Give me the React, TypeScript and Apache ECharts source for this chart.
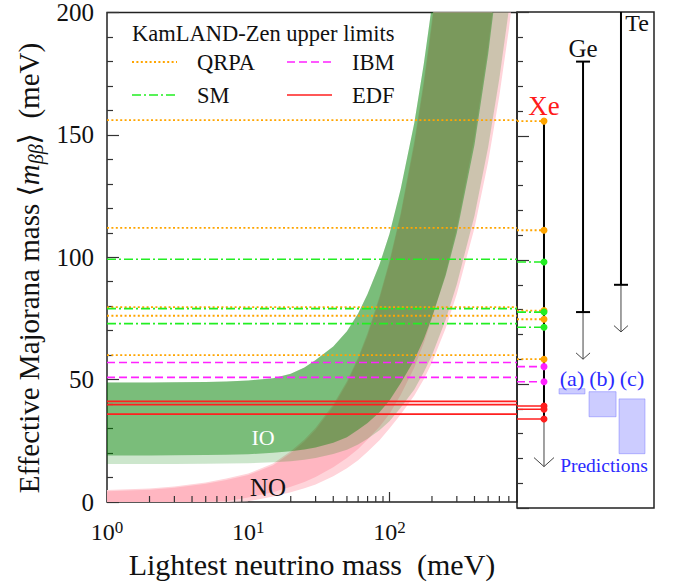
import React, { useEffect, useRef } from 'react';
import * as echarts from 'echarts';

const FONT = 'Liberation Serif, Times New Roman, DejaVu Serif, serif';

// ---------- data ----------
// lightest neutrino mass axis (meV)
const X_MIN = 1;
const X_MAX = 800;
const MASS = [1, 2, 3, 5, 7, 10, 15, 20, 25, 30, 40, 50, 60, 70, 85, 100, 120, 150, 175, 200, 250, 300, 400, 500, 600, 700, 800];
const MINOR_X = [2, 3, 4, 5, 6, 7, 8, 9, 20, 30, 40, 50, 60, 70, 80, 90, 200, 300, 400, 500, 600, 700];
const X_TICK_POWERS = [0, 1, 2];

// Inverted ordering band (meV)
const IO_UPPER = [48.8, 48.8, 48.9, 49.0, 49.2, 49.6, 50.6, 52.4, 55.0, 58.0, 63.5, 69.8, 77, 85, 97, 109.5, 127.8, 155, 179, 203, 251, 300, 399, 498, 597, 697, 796];
const IO_LOWER = [19.0, 19.0, 19.1, 19.2, 19.3, 19.5, 20.1, 20.7, 21.4, 22.3, 24.2, 26.5, 29.5, 32.3, 36.7, 41.5, 48.5, 58, 66.5, 75.5, 92.5, 110, 146, 183, 220, 256, 292];
const IO_LOWER_WIDE = [15.5, 15.5, 15.5, 15.6, 15.7, 15.8, 16.2, 16.7, 17.3, 18.0, 19.6, 21.3, 23.5, 25.8, 29.3, 33, 38.5, 46, 53, 60, 74.5, 89, 117, 145, 173, 201, 229];

// Normal ordering band (meV)
const NO_UPPER = [4.4, 5.0, 5.8, 7.5, 9.0, 11, 15, 20, 24.7, 29.5, 39, 48.5, 58.3, 68, 83, 97.5, 117, 146, 170.5, 195, 244, 293, 390, 488, 585, 683, 780];
const NO_UPPER_WIDE = [4.9, 5.5, 6.3, 8.0, 9.6, 11.6, 15.7, 20.7, 25.5, 30.3, 39.8, 49.3, 59, 69, 84, 98.5, 118, 147.5, 172, 197, 246, 295, 393, 491, 589, 687, 785];
const NO_LOWER = [0, 0, 0, 0, 0.3, 1.8, 4.0, 6.2, 8.2, 10.2, 14.2, 18.0, 21.7, 25.5, 30.7, 36, 43.7, 55, 65, 75, 93.5, 112, 149, 186, 223, 260, 297];
const NO_LOWER_WIDE = [0, 0, 0, 0, 0, 0.3, 2.2, 4.0, 5.6, 7.2, 10.5, 13.8, 17.1, 20.5, 25.2, 30, 35.8, 43.5, 50.2, 57, 71, 85, 112, 139, 166, 193, 220];

// KamLAND-Zen upper limits (meV)
const QRPA_LIMITS = [156, 112, 79.6, 76.1, 60];
const SM_LIMITS = [99.2, 79, 72.9];
const IBM_LIMITS = [57, 50.9];
const EDF_LIMITS = [41.1, 39.8, 35.9];

// other experiments (meV)
const XE_ARROW = 16.7;
const GE_LIMIT = [180, 79];
const GE_ARROW = 60;
const TE_LIMIT = [260, 90];
const TE_ARROW = 71;

// predictions (meV)
const PRED_LABELS = ['(a)', '(b)', '(c)'];
const PRED_LOW = [46, 36.8, 21.9];
const PRED_HIGH = [48.1, 46.9, 44];

// ---------- layout (right panel x runs 0..10) ----------
const XE_X = 1.97;
const GE_X = 4.82;
const TE_X = 7.59;
const PRED_X = [[3.07, 4.96], [5.26, 7.23], [7.45, 9.34]];

const METHODS = [
  { name: 'QRPA', values: QRPA_LIMITS, color: '#ffa500', dash: [2, 2.4], width: 1.8 },
  { name: 'SM', values: SM_LIMITS, color: '#22ee22', dash: [9, 3, 2, 3], width: 1.6 },
  { name: 'IBM', values: IBM_LIMITS, color: '#ff22ff', dash: [8, 4], width: 1.6 },
  { name: 'EDF', values: EDF_LIMITS, color: '#ff1f1f', dash: 'solid' as any, width: 1.6 },
];

function bandSeries(lower: number[], upper: number[], fill: string, z: number) {
  return {
    type: 'custom',
    xAxisIndex: 0,
    yAxisIndex: 0,
    clip: true,
    silent: true,
    z,
    data: [[MASS[0], lower[0]]],
    renderItem: (_params: any, api: any) => {
      const pts: number[][] = [];
      for (let i = 0; i < MASS.length; i++) pts.push(api.coord([MASS[i], upper[i]]));
      for (let i = MASS.length - 1; i >= 0; i--) pts.push(api.coord([MASS[i], lower[i]]));
      return { type: 'polygon', shape: { points: pts }, style: { fill } };
    },
  };
}

export default function App() {
  const ref = useRef<HTMLDivElement>(null);

  useEffect(() => {
    if (!ref.current) return;
    const chart = echarts.init(ref.current, undefined, { renderer: 'svg' });

    const allXe = [...QRPA_LIMITS, ...SM_LIMITS, ...IBM_LIMITS, ...EDF_LIMITS];
    const COLUMNS = [
      { x: XE_X, top: Math.max(...allXe), limit: Math.min(...allXe), arrow: XE_ARROW, cap: false, head: 10 },
      { x: GE_X, top: GE_LIMIT[0], limit: GE_LIMIT[1], arrow: GE_ARROW, cap: true, head: 7 },
      { x: TE_X, top: TE_LIMIT[0], limit: TE_LIMIT[1], arrow: TE_ARROW, cap: true, head: 7 },
    ];

    const series: any[] = [
      bandSeries(NO_LOWER_WIDE, NO_UPPER_WIDE, 'rgb(255,212,218)', 1),
      bandSeries(NO_LOWER, NO_UPPER, 'rgb(255,182,193)', 2),
      bandSeries(IO_LOWER_WIDE, IO_UPPER, 'rgba(0,128,0,0.2)', 3),
      bandSeries(IO_LOWER, IO_UPPER, 'rgba(0,128,0,0.4)', 4),
      {
        type: 'custom',
        xAxisIndex: 0,
        yAxisIndex: 0,
        silent: true,
        z: 6,
        data: MINOR_X.map((x) => [x, 0]),
        renderItem: (params: any, api: any) => {
          const p = api.coord([MINOR_X[params.dataIndex], 0]);
          return { type: 'line', shape: { x1: p[0], y1: p[1], x2: p[0], y2: p[1] - 6 }, style: { stroke: '#333', lineWidth: 1.2 } };
        },
      },
    ];

    METHODS.forEach((m) => {
      m.values.forEach((v) => {
        const lineStyle = { color: m.color, width: m.width, type: m.dash, cap: 'butt' };
        series.push({
          type: 'line', xAxisIndex: 0, yAxisIndex: 0, silent: true, z: 5,
          showSymbol: false, symbol: 'none', lineStyle,
          data: [[X_MIN, v], [X_MAX, v]],
        });
        series.push({
          type: 'line', xAxisIndex: 1, yAxisIndex: 1, silent: true, z: 5,
          showSymbol: false, symbol: 'none', lineStyle,
          data: [[0, v], [XE_X, v]],
        });
      });
    });

    // prediction boxes
    series.push({
      type: 'custom', xAxisIndex: 1, yAxisIndex: 1, silent: true, z: 3,
      data: PRED_LOW.map((lo, i) => [PRED_X[i][0], lo]),
      renderItem: (params: any, api: any) => {
        const i = params.dataIndex;
        const p0 = api.coord([PRED_X[i][0], PRED_HIGH[i]]);
        const p1 = api.coord([PRED_X[i][1], PRED_LOW[i]]);
        return {
          type: 'rect',
          shape: { x: p0[0], y: p0[1], width: p1[0] - p0[0], height: p1[1] - p0[1] },
          style: { fill: 'rgba(110,110,255,0.35)', stroke: 'rgba(110,110,255,0.45)', lineWidth: 1 },
        };
      },
    });

    // limit columns
    series.push({
      type: 'custom', xAxisIndex: 1, yAxisIndex: 1, silent: true, clip: true, z: 6,
      data: COLUMNS.map((c) => [c.x, c.limit]),
      renderItem: (params: any, api: any) => {
        const c = COLUMNS[params.dataIndex];
        const pTop = api.coord([c.x, c.top]);
        const pLim = api.coord([c.x, c.limit]);
        const pTip = api.coord([c.x, c.arrow]);
        const h = c.head;
        const children: any[] = [
          { type: 'line', shape: { x1: pTop[0], y1: pTop[1], x2: pLim[0], y2: pLim[1] }, style: { stroke: '#000', lineWidth: 2 } },
          { type: 'line', shape: { x1: pLim[0], y1: pLim[1], x2: pTip[0], y2: pTip[1] }, style: { stroke: '#444', lineWidth: 1 } },
          {
            type: 'polyline',
            shape: { points: [[pTip[0] - h, pTip[1] - h * 0.9], [pTip[0], pTip[1]], [pTip[0] + h, pTip[1] - h * 0.9]] },
            style: { stroke: '#444', lineWidth: 1, fill: null },
          },
        ];
        if (c.cap) {
          children.push({ type: 'line', shape: { x1: pTop[0] - 7, y1: pTop[1], x2: pTop[0] + 7, y2: pTop[1] }, style: { stroke: '#000', lineWidth: 2 } });
          children.push({ type: 'line', shape: { x1: pLim[0] - 7, y1: pLim[1], x2: pLim[0] + 7, y2: pLim[1] }, style: { stroke: '#000', lineWidth: 2 } });
        }
        return { type: 'group', children };
      },
    });

    // Xe dots
    METHODS.forEach((m) => {
      series.push({
        type: 'scatter', xAxisIndex: 1, yAxisIndex: 1, silent: true, z: 8,
        symbol: 'circle', symbolSize: 7,
        itemStyle: { color: m.color, opacity: 1 },
        data: m.values.map((v) => [XE_X, v]),
      });
    });

    const legendRows = [
      { label: 'QRPA', m: METHODS[0], x: 132, y: 62 },
      { label: 'IBM', m: METHODS[2], x: 287, y: 62 },
      { label: 'SM', m: METHODS[1], x: 132, y: 95 },
      { label: 'EDF', m: METHODS[3], x: 287, y: 95 },
    ];
    const graphic: any[] = [
      { type: 'text', x: 132, y: 33, z: 50, style: { text: 'KamLAND-Zen upper limits', fontSize: 22.5, fontFamily: FONT, fill: '#111', align: 'left', verticalAlign: 'middle' } },
      {
        type: 'text', x: 29, y: 268, rotation: Math.PI / 2, z: 50,
        style: {
          text: '{t|Effective Majorana mass \u27E8}{i|m}{s|\u03B2\u03B2}{t|\u27E9  (meV)}',
          align: 'center', verticalAlign: 'middle',
          fontSize: 29, fontFamily: FONT, fill: '#111',
          rich: {
            t: { fontSize: 29, fontFamily: FONT, fill: '#111', lineHeight: 34 },
            i: { fontSize: 29, fontFamily: FONT, fill: '#111', fontStyle: 'italic', lineHeight: 34 },
            s: { fontSize: 20, fontFamily: FONT, fill: '#111', fontStyle: 'italic', lineHeight: 22, verticalAlign: 'bottom' },
          },
        },
      },
    ];
    legendRows.forEach((r) => {
      graphic.push({
        type: 'line', z: 50,
        shape: { x1: r.x, y1: r.y, x2: r.x + 45, y2: r.y },
        style: { stroke: r.m.color, lineWidth: r.m.width, lineDash: Array.isArray(r.m.dash) ? r.m.dash : null },
      });
      graphic.push({
        type: 'text', x: r.x + 65, y: r.y, z: 50,
        style: { text: r.label, fontSize: 22.5, fontFamily: FONT, fill: '#111', align: 'left', verticalAlign: 'middle' },
      });
    });
    const texts = [
      { t: 'IO', x: 263, y: 437, size: 22, color: '#ffffff' },
      { t: 'NO', x: 268, y: 487, size: 25, color: '#111111' },
      { t: 'Xe', x: 544, y: 106, size: 27, color: '#ff1a1a' },
      { t: 'Ge', x: 583, y: 48, size: 25, color: '#111111' },
      { t: 'Te', x: 637, y: 23, size: 24, color: '#111111' },
      { t: PRED_LABELS[0], x: 572, y: 378, size: 22, color: '#2b2bff' },
      { t: PRED_LABELS[1], x: 602, y: 378, size: 22, color: '#2b2bff' },
      { t: PRED_LABELS[2], x: 632, y: 378, size: 22, color: '#2b2bff' },
      { t: 'Predictions', x: 604, y: 465, size: 19.5, color: '#2b2bff' },
    ];
    texts.forEach((t) => {
      graphic.push({
        type: 'text', x: t.x, y: t.y, z: 60,
        style: { text: t.t, fontSize: t.size, fontFamily: FONT, fill: t.color, align: 'center', verticalAlign: 'middle' },
      });
    });

    const option: any = {
      animation: false,
      backgroundColor: '#ffffff',
      textStyle: { fontFamily: FONT },
      grid: [
        { left: 107, right: 156, top: 12, bottom: 76, show: true, borderColor: '#222', borderWidth: 1.5, backgroundColor: 'transparent' },
        { left: 517, right: 19, top: 12, bottom: 76, show: true, borderColor: '#222', borderWidth: 1.5, backgroundColor: 'transparent' },
      ],
      xAxis: [
        {
          type: 'log', gridIndex: 0, logBase: 10, min: X_MIN, max: X_MAX,
          axisLine: { show: false },
          splitLine: { show: false },
          axisTick: { show: true, inside: true, length: 10, lineStyle: { color: '#333', width: 1.2 } },
          axisLabel: {
            margin: 17,
            showMaxLabel: false,
            fontFamily: FONT,
            formatter: (v: number) => {
              const e = Math.round(Math.log10(v));
              if (Math.abs(Math.log10(v) - e) > 1e-6 || X_TICK_POWERS.indexOf(e) < 0) return '';
              return `{b|10}{s|${e}}`;
            },
            rich: {
              b: { fontSize: 24, fontFamily: FONT, color: '#111', lineHeight: 26 },
              s: { fontSize: 17, fontFamily: FONT, color: '#111', lineHeight: 16, verticalAlign: 'top' },
            },
          },
          name: 'Lightest neutrino mass  (meV)',
          nameLocation: 'middle',
          nameGap: 47,
          nameTextStyle: { fontSize: 30, fontFamily: FONT, color: '#111' },
        },
        { type: 'value', gridIndex: 1, min: 0, max: 10, show: false },
      ],
      yAxis: [
        {
          type: 'value', gridIndex: 0, min: 0, max: 200, interval: 50,
          axisLine: { show: false },
          splitLine: { show: false },
          axisTick: { show: true, inside: true, length: 12, lineStyle: { color: '#333', width: 1.2 } },
          minorTick: { show: true, splitNumber: 5, length: 6, lineStyle: { color: '#333', width: 1.2 } },
          axisLabel: { fontSize: 25, fontFamily: FONT, color: '#111', margin: 13 },
        },
        {
          type: 'value', gridIndex: 1, min: 0, max: 200, interval: 50,
          axisLine: { show: false },
          splitLine: { show: false },
          axisLabel: { show: false },
          axisTick: { show: true, inside: true, length: 12, lineStyle: { color: '#333', width: 1.2 } },
          minorTick: { show: true, splitNumber: 5, length: 6, lineStyle: { color: '#333', width: 1.2 } },
        },
      ],
      series,
      graphic,
    };

    chart.setOption(option);
    return () => chart.dispose();
  }, []);

  return (
    <div style={{ position: 'fixed', left: 0, top: 0, width: 673, height: 584, background: '#fff' }}>
      <div ref={ref} style={{ width: 673, height: 584 }} />
    </div>
  );
}
